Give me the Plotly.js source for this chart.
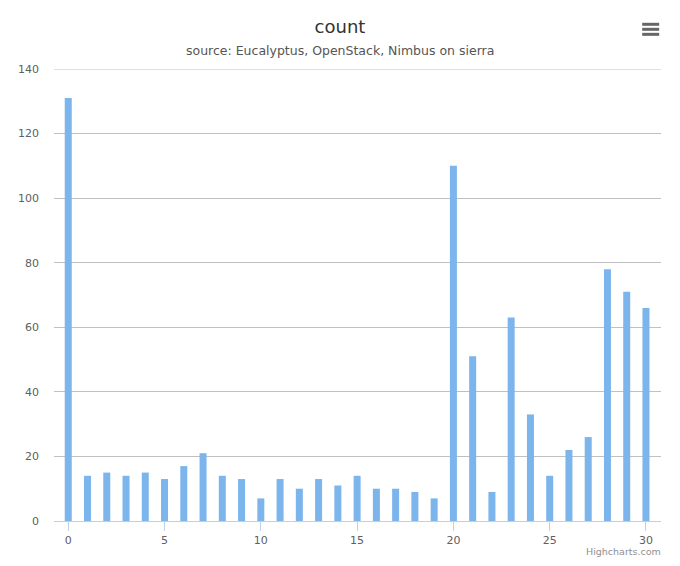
<!DOCTYPE html>
<html>
<head>
<meta charset="utf-8">
<script src="https://cdn.plot.ly/plotly-3.0.1.min.js"></script>
<style>
  html, body { margin: 0; padding: 0; background: #fff; }
  #plot1 { width: 680px; height: 566px; }
</style>
</head>
<body>
<div id="plot1"></div>
<script>
// data
const xValues = [0, 1, 2, 3, 4, 5, 6, 7, 8, 9, 10, 11, 12, 13, 14, 15, 16, 17, 18, 19, 20, 21, 22, 23, 24, 25, 26, 27, 28, 29, 30];
const countValues = [131, 14, 15, 14, 15, 13, 17, 21, 14, 13, 7, 13, 10, 13, 11, 14, 10, 10, 9, 7, 110, 51, 9, 63, 33, 14, 22, 26, 78, 71, 66];
const xTicks = [0, 5, 10, 15, 20, 25, 30];
const yTicks = [0, 20, 40, 60, 80, 100, 120, 140];

const fontMain = 'DejaVu Sans, Verdana, sans-serif';

// menu icon (three bars) in the top right corner
let menuLines = [];
[1.0989, 1.0878, 1.0767].forEach(function(yy) {
  menuLines.push({
    type: 'line', xref: 'paper', yref: 'paper',
    x0: 0.969, x1: 0.997, y0: yy, y1: yy,
    line: { color: '#666666', width: 3 },
  });
});
// top gridline (plotly drops the one sitting on the range edge)
menuLines.push({
  type: 'line', xref: 'paper', yref: 'y',
  x0: 0, x1: 1, y0: 140, y1: 140,
  line: { color: '#C0C0C0', width: 1 },
  layer: 'below',
});

const trace = {
  x: xValues,
  y: countValues,
  type: 'bar',
  name: 'count',
  marker: { color: '#7CB5EC' },
  hoverinfo: 'x+y',
};

const layoutBar = {
  width: 680,
  height: 566,
  margin: { l: 54, r: 19, t: 69, b: 45 },
  paper_bgcolor: '#ffffff',
  plot_bgcolor: '#ffffff',
  showlegend: false,
  bargap: 0.636,
  font: { family: fontMain, color: '#606060', size: 11 },
  xaxis: {
    range: [-0.74, 30.78],
    tickvals: xTicks,
    ticktext: xTicks.map(String),
    ticks: 'outside',
    ticklen: 9,
    tickcolor: '#C0D0E0',
    tickwidth: 1,
    showline: true,
    linecolor: '#C0D0E0',
    linewidth: 1,
    showgrid: false,
    zeroline: false,
    ticklabelstandoff: 0,
    tickfont: { family: fontMain, size: 11, color: '#606060' },
    fixedrange: true,
  },
  yaxis: {
    range: [0, 140],
    tickvals: yTicks,
    ticktext: yTicks.map(String),
    showgrid: true,
    gridcolor: '#C0C0C0',
    gridwidth: 1,
    zeroline: false,
    showline: false,
    ticks: '',
    ticklabelstandoff: 14,
    tickfont: { family: fontMain, size: 11, color: '#606060' },
    fixedrange: true,
  },
  title: {
    text: 'count',
    font: { family: fontMain, size: 18, color: '#333333' },
    x: 0.5, xref: 'container', xanchor: 'center',
    y: 1 - 27 / 566, yref: 'container', yanchor: 'middle',
  },
  annotations: [
    {
      text: 'source: Eucalyptus, OpenStack, Nimbus on sierra',
      xref: 'paper', yref: 'paper',
      x: (340 - 54) / 607, y: (521 - 50) / 452, xanchor: 'center', yanchor: 'middle',
      showarrow: false,
      font: { family: fontMain, size: 12.5, color: '#555555' },
    },
    {
      text: 'Highcharts.com',
      xref: 'paper', yref: 'paper',
      x: (663 - 54) / 607, y: (521 - 551) / 452, xanchor: 'right', yanchor: 'middle',
      showarrow: false,
      font: { family: fontMain, size: 9.5, color: '#909090' },
    },
  ],
  shapes: menuLines,
};

const configPlotBar = {
  displayModeBar: false,
  staticPlot: false,
};

Plotly.newPlot('plot1', [trace], layoutBar, configPlotBar);
</script>
</body>
</html>
